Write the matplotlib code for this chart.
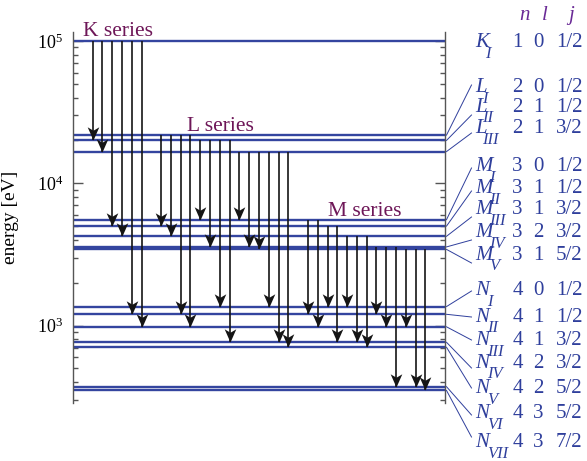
import matplotlib
matplotlib.use("Agg")
import matplotlib.pyplot as plt
from matplotlib.lines import Line2D
from matplotlib.ticker import LogLocator, NullFormatter

plt.rcParams['font.family'] = ['Liberation Serif', 'DejaVu Serif']
plt.rcParams['mathtext.fontset'] = 'stix'

# ---- energy levels (eV) ----
level_keys = ['K', 'L1', 'L2', 'L3', 'M1', 'M2', 'M3', 'M4', 'M5',
              'N1', 'N2', 'N3', 'N4', 'N5', 'N6', 'N7']
level_energy = [1.0e5, 21.8e3, 20.0e3, 16.7e3,
                5.55e3, 5.0e3, 4.24e3, 3.57e3, 3.43e3,
                1360, 1200, 980, 763, 704, 372, 350]
shell_letter = ['K', 'L', 'L', 'L', 'M', 'M', 'M', 'M', 'M',
                'N', 'N', 'N', 'N', 'N', 'N', 'N']
shell_sub = ['I', 'I', 'II', 'III', 'I', 'II', 'III', 'IV', 'V',
             'I', 'II', 'III', 'IV', 'V', 'VI', 'VII']
q_n = ['1', '2', '2', '2', '3', '3', '3', '3', '3', '4', '4', '4', '4', '4', '4', '4']
q_l = ['0', '0', '1', '1', '0', '1', '1', '2', '1', '0', '1', '1', '2', '2', '3', '3']
q_j = ['1/2', '1/2', '1/2', '3/2', '1/2', '1/2', '3/2', '3/2', '5/2',
       '1/2', '1/2', '3/2', '3/2', '5/2', '5/2', '7/2']

# ---- transitions (initial vacancy -> final level) ----
transitions = [('K', 'L2'), ('K', 'L3'), ('K', 'M2'), ('K', 'M3'), ('K', 'N2'), ('K', 'N3'),
               ('L1', 'M2'), ('L1', 'M3'), ('L1', 'N2'), ('L1', 'N3'),
               ('L2', 'M1'), ('L2', 'M4'), ('L2', 'N1'), ('L2', 'N4'),
               ('L3', 'M1'), ('L3', 'M4'), ('L3', 'M5'), ('L3', 'N1'), ('L3', 'N4'), ('L3', 'N5'),
               ('M1', 'N2'), ('M1', 'N3'), ('M2', 'N1'), ('M2', 'N4'),
               ('M3', 'N1'), ('M3', 'N4'), ('M3', 'N5'),
               ('M4', 'N2'), ('M4', 'N3'), ('M4', 'N6'),
               ('M5', 'N3'), ('M5', 'N6'), ('M5', 'N7')]

series_names = ['K series', 'L series', 'M series']

E = dict(zip(level_keys, level_energy))

W, H = 587, 461
LEVEL_BLUE = '#34459f'
TEXT_BLUE = '#2f3f9c'
SERIES_PURPLE = '#6e1758'
HEAD_PURPLE = '#6a2a96'
ARROW = '#151515'


def fx(px):
    return px / W


def fy(py):
    return 1 - py / H


fig = plt.figure(figsize=(W / 100, H / 100), dpi=100)
ax = fig.add_axes([fx(73), fy(402.7), (445 - 73) / W, (402.7 - 31.7) / H])
ax.set_yscale('log')
ax.set_xlim(-2, 36)
ax.set_ylim(287, 1.162e5)

# level lines
ax.hlines(level_energy, -2, 36, color=LEVEL_BLUE, lw=1.7, zorder=2)

# stealth-style arrow head, tip at the origin pointing down
head = [(0, 0), (-0.44, 1.0), (0, 0.74), (0.44, 1.0), (0, 0)]

slot = 0
prev_series = None
for src, dst in transitions:
    series = src[0]
    if prev_series is not None and series != prev_series:
        slot += 1
    prev_series = series
    ax.plot([slot, slot], [E[src], E[dst]], color=ARROW, lw=1.2, zorder=3,
            solid_capstyle='butt')
    ax.plot([slot], [E[dst]], marker=head, ms=19, color=ARROW,
            markeredgewidth=0, zorder=4)
    slot += 1

# series titles
series_pos = [(-1.0, 1.076e5), (9.6, 23.4e3), (24.05, 5920)]
for name, (sx, sy) in zip(series_names, series_pos):
    ax.text(sx, sy, name, color=SERIES_PURPLE, fontsize=15.5,
            ha='left', va='baseline', zorder=5)

# axes styling
for side in ('top', 'bottom'):
    ax.spines[side].set_visible(False)
for side in ('left', 'right'):
    ax.spines[side].set_color('#555555')
    ax.spines[side].set_linewidth(1.0)
ax.set_xticks([])
ax.yaxis.set_major_locator(LogLocator(base=10, numticks=10))
ax.yaxis.set_minor_locator(LogLocator(base=10, subs=range(2, 10), numticks=20))
ax.yaxis.set_minor_formatter(NullFormatter())
ax.tick_params(axis='y', which='both', direction='in', left=True, right=True,
               color='#555555', width=1.0)
ax.tick_params(axis='y', which='major', length=7.2, pad=7, labelsize=13)
ax.tick_params(axis='y', which='minor', length=3.6)
ax.set_ylabel('energy [eV]', fontsize=14)
ax.yaxis.set_label_coords(-0.145, 0.5)

# right-hand level table
row_base = [47, 92, 112, 133, 171, 193, 214, 237, 260, 295, 322, 345, 368, 393, 418, 447]
link_end = [None, 85, 115, 133, 168, 191, 217, 240, 263, 291, 317, 340, 368, 388, 415, 437]
sub_dx = {'K': 10.5, 'L': 7.5, 'M': 14.0, 'N': 12.5}

for hx, hs in ((524.5, 'n'), (544.5, 'l'), (571, 'j')):
    fig.text(fx(hx), fy(20), hs, color=HEAD_PURPLE, fontsize=15, style='italic',
             ha='center', va='baseline')

fig.canvas.draw()
for i, key in enumerate(level_keys):
    yb = row_base[i]
    letter = shell_letter[i]
    fig.text(fx(475), fy(yb), letter, color=TEXT_BLUE, fontsize=15, style='italic',
             ha='left', va='baseline')
    fig.text(fx(475 + sub_dx[letter]), fy(yb + 10.5), shell_sub[i], color=TEXT_BLUE,
             fontsize=12, style='italic', ha='left', va='baseline')
    fig.text(fx(517.5), fy(yb), q_n[i], color=TEXT_BLUE, fontsize=15,
             ha='center', va='baseline')
    fig.text(fx(538.5), fy(yb), q_l[i], color=TEXT_BLUE, fontsize=15,
             ha='center', va='baseline')
    fig.text(fx(569), fy(yb), q_j[i], color=TEXT_BLUE, fontsize=15,
             ha='center', va='baseline')
    if link_end[i] is not None:
        x0, y0 = ax.transData.transform((36, level_energy[i]))
        x0 += 1.5
        fig.add_artist(Line2D([x0 / W, fx(471.5)], [y0 / H, fy(link_end[i])],
                              transform=fig.transFigure, color=TEXT_BLUE, lw=0.7))

fig.savefig('out.png', dpi=100)
